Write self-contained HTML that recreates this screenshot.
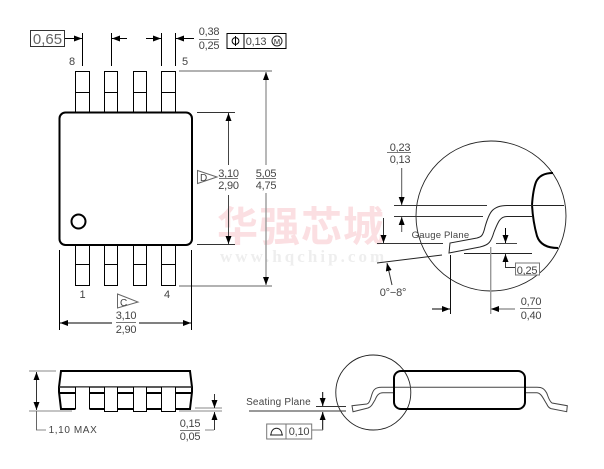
<!DOCTYPE html>
<html><head><meta charset="utf-8"><style>
html,body{margin:0;padding:0;background:#fff}
svg{display:block}
text{font-family:"Liberation Sans",sans-serif;font-size:11px;letter-spacing:-.2px;fill:#444;text-anchor:middle}
</style></head><body>
<svg width="604" height="469" viewBox="0 0 604 469" xmlns="http://www.w3.org/2000/svg">
<defs>
<marker id="a" viewBox="0 0 8 6" refX="8" refY="3" markerWidth="8" markerHeight="6" orient="auto-start-reverse" markerUnits="userSpaceOnUse"><path d="M0 0L8 3L0 6Z" fill="#000"/></marker>
</defs>
<rect width="604" height="469" fill="#fff"/>

<!-- watermark -->
<text x="301" y="241" style="font-family:'Noto Sans CJK SC',sans-serif;font-size:41px;font-weight:700;fill:#fbdfe2;letter-spacing:1px">华强芯城</text>
<text x="302" y="262" textLength="164" style="font-family:'Liberation Serif',serif;font-size:17px;font-weight:700;fill:#eee">www.hqchip.com</text>

<!-- top view -->
<g fill="#fff" stroke="#000" stroke-width="1">
<rect x="75.5" y="71.5" width="14" height="41"/><rect x="104.5" y="71.5" width="13" height="41"/><rect x="133.5" y="71.5" width="13" height="41"/><rect x="161.5" y="71.5" width="14" height="41"/>
<rect x="75.5" y="245.5" width="14" height="40"/><rect x="104.5" y="245.5" width="13" height="40"/><rect x="133.5" y="245.5" width="13" height="40"/><rect x="161.5" y="245.5" width="14" height="40"/>
<path d="M75 92.5h15M104 92.5h14M133 92.5h14M161 92.5h15M75 264.5h15M104 264.5h14M133 264.5h14M161 264.5h15" fill="none"/>
</g>
<rect x="59.5" y="112.5" width="132.5" height="132.5" rx="6" fill="#fff" stroke="#000" stroke-width="2"/>
<circle cx="78.5" cy="221.5" r="7" fill="#fff" stroke="#000" stroke-width="2"/>

<!-- top dims -->
<g fill="none" stroke="#000" stroke-width="1">
<path d="M82.5 33V66M111.5 33V66M161.5 33V66M175.5 33V66"/>
<path d="M63 38.5H82" marker-end="url(#a)"/>
<path d="M127 38.5H112" marker-end="url(#a)"/>
<path d="M146 38.5H161" marker-end="url(#a)"/>
<path d="M194 38.5H176" marker-end="url(#a)"/>
<path d="M197 112.5H235M197 244.5H235" stroke="#333"/>
<path d="M228.5 165V113" marker-end="url(#a)" stroke="#444"/>
<path d="M228.5 195V244" marker-end="url(#a)" stroke="#444"/>
</g>
<g fill="none" stroke="#999" stroke-width="1.4">
<path d="M179 71H272M179 286H272"/>
<path d="M266 165V72" marker-end="url(#a)"/>
<path d="M266 193V285" marker-end="url(#a)"/>
</g>
<rect x="30.5" y="30.5" width="34" height="16" fill="#fff" stroke="#333"/>
<text x="47.5" y="44" style="font-size:15px;letter-spacing:0;fill:#666">0,65</text>
<text x="72" y="65">8</text><text x="185" y="65">5</text>
<text x="82.5" y="298">1</text><text x="167" y="298">4</text>
<text x="209" y="35">0,38</text><path d="M199 39.5H219" stroke="#777"/><text x="209" y="49">0,25</text>
<rect x="227" y="33.5" width="59" height="15" fill="#fff" stroke="#000"/><path d="M244 33.5V48.5" stroke="#000"/>
<circle cx="235.5" cy="41" r="3.4" fill="none" stroke="#000"/><path d="M235.5 36V46" stroke="#000"/>
<text x="256" y="45">0,13</text>
<circle cx="277" cy="41" r="5" fill="none" stroke="#222"/><text x="277" y="44" style="font-size:7.5px;letter-spacing:0;fill:#222">M</text>

<!-- D / C datums -->
<path d="M197.5 170.5L217 177L197.5 183.5Z" fill="#fff" stroke="#666"/>
<text x="203.5" y="181" style="font-size:10px">D</text>
<path d="M117.5 294L138 302L117.5 308Z" fill="#fff" stroke="#666"/>
<text x="123.5" y="306" style="font-size:10px">C</text>
<text x="228.5" y="177">3,10</text><path d="M219 178.5H238" stroke="#777"/><text x="228.5" y="189">2,90</text>
<text x="266" y="177">5,05</text><path d="M256 178.5H276" stroke="#777"/><text x="266" y="189">4,75</text>

<!-- bottom width dim -->
<g fill="none" stroke="#000" stroke-width="1">
<path d="M59.5 250V330M191.5 250V330"/>
<path d="M112 323H60" marker-end="url(#a)"/>
<path d="M139 323H191" marker-end="url(#a)"/>
</g>
<text x="126" y="319">3,10</text><path d="M116 322.5H136" stroke="#777"/><text x="126" y="333">2,90</text>

<!-- detail view -->
<circle cx="491" cy="216" r="75" fill="none" stroke="#222" stroke-width="0.9"/>
<g fill="none" stroke="#000">
<path d="M394 205.5H487M394 216.5H483" stroke="#333"/>
<path d="M532 205Q533 190 536 182Q540 173 553 173" stroke-width="2"/>
<path d="M532 205Q533 222 537 236Q541 248 558 248" stroke-width="2"/>
<path d="M564 205.5H507C492 205.5 489 213 485 227C483 236 481 237 477 238L450 243L449 253L480 247C489 245 491 242 494 232C498 222 500 216.5 507 216.5H532" stroke="#222"/>
<path d="M377 243.5H443" stroke="#333"/>
<path d="M377 263L442 255" stroke="#222"/>
<path d="M450.5 255V314" stroke="#111"/>
<path d="M464 253.5H532" stroke="#222"/>
<path d="M496 243.5H517" stroke="#444"/>
<path d="M432 309H450" marker-end="url(#a)"/>
<path d="M401.7 168V205" marker-end="url(#a)" stroke="#555"/>
<path d="M401.7 232V217" marker-end="url(#a)" stroke="#555"/>
<path d="M383.5 218V243" marker-end="url(#a)" stroke="#333"/>
<path d="M392 285L387 263" marker-end="url(#a)" stroke="#333"/>
<path d="M505.5 228V243" marker-end="url(#a)"/>
<path d="M505.5 267V254" marker-end="url(#a)" stroke="#333"/>
<path d="M505 267.5H515" stroke="#333"/>
<path d="M490.7 247V314" stroke="#999" stroke-width="1.4"/>
<path d="M515 309H491" marker-end="url(#a)" stroke="#999" stroke-width="1.4"/>
</g>
<text x="400" y="151">0,23</text><path d="M387 152.5H411" stroke="#777"/><text x="400" y="163">0,13</text>
<text x="440.5" y="238" style="font-size:9.5px;letter-spacing:.2px">Gauge Plane</text>
<text x="393" y="296">0°−8°</text>
<rect x="515.5" y="263" width="24" height="12" fill="#fff" stroke="#777"/><text x="527" y="274">0,25</text>
<text x="531" y="305">0,70</text><path d="M520 308.5H541" stroke="#777"/><text x="531" y="319">0,40</text>

<!-- side view left -->
<path d="M61 371H190L192 387V392L190 409H61L59 392V387Z" fill="#fff" stroke="#000" stroke-width="2"/>
<path d="M59 387H192" stroke="#222" stroke-width="1.6" fill="none"/>
<path d="M59 393H192" stroke="#000" stroke-width="2" fill="none"/>
<g fill="#fff" stroke="#000" stroke-width="1">
<path d="M75.5 387.5V411H89.5V387.5Z" stroke="none"/><path d="M104.5 387.5V411.5H117.5V387.5Z" stroke="none"/><path d="M133.5 387.5V411.5H146.5V387.5Z" stroke="none"/><path d="M161.5 387.5V411.5H175.5V387.5Z" stroke="none"/>
<path d="M75.5 387V409M89.5 387V409M104.5 387V411.5H117.5V387M133.5 387V411.5H146.5V387M161.5 387V411.5H175.5V387" fill="none"/>
</g>
<g fill="none" stroke="#888" stroke-width="1">
<path d="M29 371H56"/><path d="M29 411H72"/><path d="M195 408H222"/><path d="M179 411H222"/>
<path d="M36 430H46"/><path d="M205 430H214"/>
</g>
<g fill="none" stroke="#000">
<path d="M36.5 395V372" marker-end="url(#a)" stroke="#333"/>
<path d="M36.5 395V410" marker-end="url(#a)" stroke="#333"/>
<path d="M36.5 411V430" stroke="#666"/>
<path d="M214.5 394V408" marker-end="url(#a)" stroke="#333"/>
<path d="M214.5 430V412" marker-end="url(#a)" stroke="#333"/>
</g>
<text x="73" y="433" style="font-size:10px;letter-spacing:.6px">1,10 MAX</text>
<text x="190" y="427">0,15</text><path d="M180 430.5H200" stroke="#777"/><text x="190" y="440">0,05</text>

<!-- side view right -->
<circle cx="373.3" cy="392.5" r="37.5" fill="none" stroke="#222" stroke-width="0.9"/>
<g fill="none" stroke="#444" stroke-width="1">
<path d="M537 387.3H381.7C374 387.3 373 391 371.7 395C370 401 369 403.5 366.7 404L352 405.7L353 411.7L368 408C372 406.5 373 403 375 400C377 395 379 392.7 383 392.7H394"/>
<path d="M525 392.7H537C541 393 543 398 546.7 404C548 407 549 408 551 408.6L566.7 411.7L567.3 405.7L552 403C549 401 548 396 546.7 393C544 388.5 542 387.3 537 387.3"/>
</g>
<rect x="394" y="371" width="131" height="38" rx="7" fill="none" stroke="#000" stroke-width="2"/>
<g fill="none" stroke="#000" stroke-width="1">
<path d="M316 406.5H346M249 411H346" stroke="#333"/>
<path d="M322.7 392V406" marker-end="url(#a)"/>
<path d="M322.7 430V412" marker-end="url(#a)"/>
<path d="M312 430H323" stroke="#777"/>
</g>
<text x="278.5" y="405" style="font-size:10px;letter-spacing:.2px">Seating Plane</text>
<rect x="266.7" y="424" width="45" height="15" fill="#fff" stroke="#777"/><path d="M286 424V439" stroke="#777"/>
<path d="M270 435H283M271 435C271 426 282 426 282 435" fill="none" stroke="#222"/>
<text x="299" y="435">0,10</text>
</svg>
</body></html>
